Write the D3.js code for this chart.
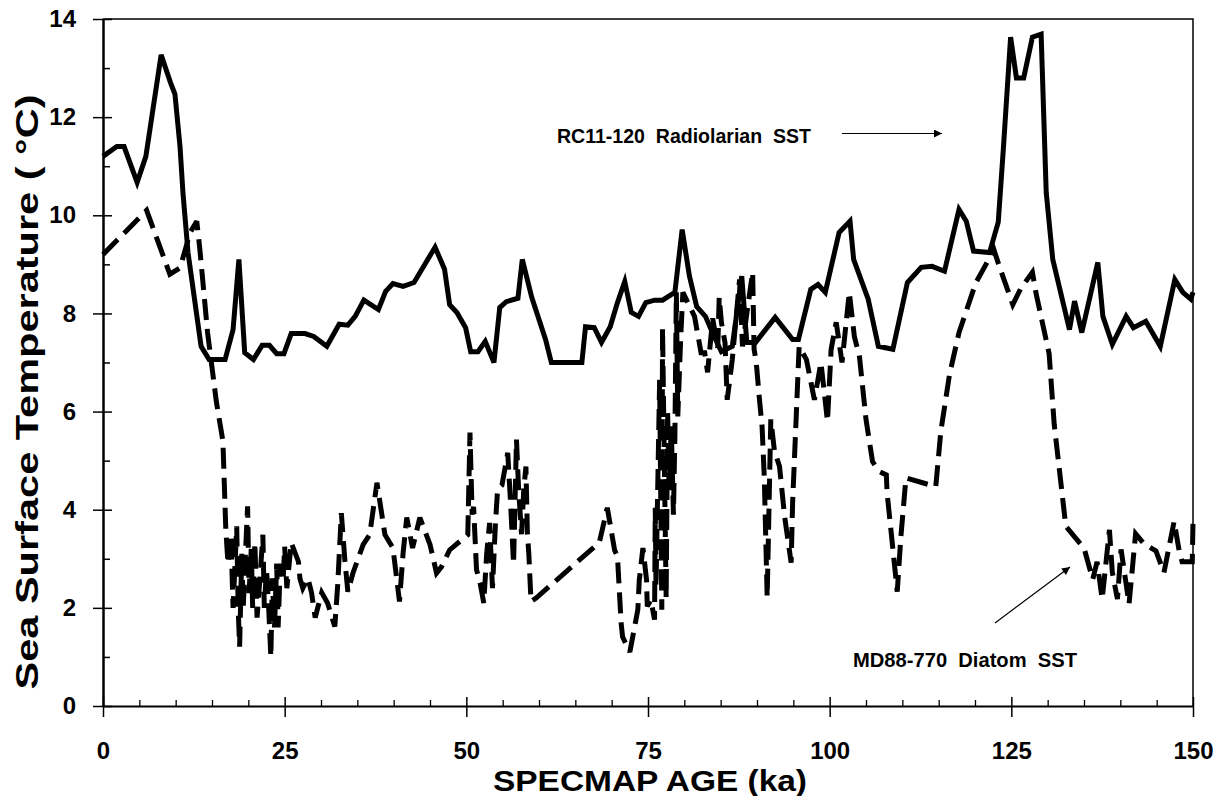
<!DOCTYPE html>
<html>
<head>
<meta charset="utf-8">
<script src="https://cdn.jsdelivr.net/npm/d3@7"></script>
<style>
  body { margin: 0; background: #fff; }
  svg { display: block; font-family: "Liberation Sans", Arial, sans-serif; }
</style>
</head>
<body>
<svg id="chart" width="1225" height="796"></svg>
<script>
// RC11-120 radiolarian SST (solid)
const rcAge = [0, 1.9, 2.9, 4.7, 5.9, 8.0, 9.3, 9.9, 10.6, 11.0, 11.7, 13.5, 14.6, 16.8, 17.9, 18.7, 19.5, 20.7,
  21.9, 22.9, 23.9, 24.9, 25.9, 27.8, 29.0, 30.8, 32.5, 33.7, 34.7, 35.9, 37.9, 38.9, 39.9, 41.3, 42.8, 45.7,
  47.0, 47.7, 48.7, 49.9, 50.6, 51.6, 52.6, 53.8, 54.6, 55.5, 57.1, 57.7, 59.0, 60.9, 61.7, 65.9, 66.4, 67.6,
  68.6, 69.8, 70.8, 71.8, 72.7, 73.7, 74.7, 75.9, 77.0, 78.7, 79.7, 80.7, 81.7, 82.9, 84.1, 85.1, 86.6, 87.9,
  88.6, 89.8, 92.5, 94.9, 95.7, 97.4, 98.4, 99.4, 101.3, 102.8, 103.3, 105.3, 106.7, 108.7, 110.7, 112.6,
  114.1, 115.8, 117.8, 118.8, 119.8, 122.0, 123.2, 123.9, 124.9, 125.7, 126.7, 127.9, 129.1, 129.8, 130.7,
  133.0, 133.7, 134.7, 136.9, 137.6, 138.9, 140.8, 141.8, 143.5, 145.5, 147.5, 148.6, 149.7, 150]
const rcSST = [11.2, 11.4, 11.4, 10.67, 11.2, 13.27, 12.7, 12.47, 11.4, 10.46, 9.24, 7.33, 7.06, 7.06, 7.67, 9.1, 7.2, 7.06,
  7.35, 7.35, 7.18, 7.18, 7.59, 7.59, 7.53, 7.33, 7.78, 7.76, 7.94, 8.27, 8.08, 8.45, 8.61, 8.55, 8.63, 9.35,
  8.9, 8.18, 8.02, 7.71, 7.22, 7.22, 7.43, 7.0, 8.12, 8.24, 8.31, 9.1, 8.33, 7.47, 7.0, 7.0, 7.73, 7.71,
  7.41, 7.73, 8.22, 8.65, 8.02, 7.94, 8.22, 8.27, 8.27, 8.43, 9.71, 8.76, 8.14, 7.94, 7.53, 7.22, 7.33, 8.76,
  7.41, 7.41, 7.92, 7.47, 7.47, 8.49, 8.59, 8.43, 9.65, 9.88, 9.1, 8.29, 7.33, 7.27, 8.63, 8.94,
  8.96, 8.86, 10.12, 9.88, 9.27, 9.24, 9.86, 11.35, 13.63, 12.8, 12.8, 13.63, 13.69, 10.47, 9.1,
  7.67, 8.25, 7.61, 9.04, 7.94, 7.37, 7.94, 7.71, 7.84, 7.33, 8.69, 8.43, 8.29, 8.43]

// MD88-770 diatom SST (dashed)
const mdAge = [0, 6.0, 9.2, 10.6, 12.0, 12.9, 13.3, 14.4, 15.6, 16.5, 16.9, 17.2, 17.6, 17.9, 18.2, 18.4, 18.6, 18.8,
  19.1, 19.3, 19.6, 19.9, 20.1, 20.4, 20.6, 20.9, 21.2, 21.6, 22.0, 22.2, 22.5, 22.8, 23.1, 23.3, 23.6, 23.9,
  24.1, 24.4, 24.8, 25.0, 25.3, 25.9, 26.9, 27.1, 27.5, 28.2, 28.7, 29.2, 30.1, 30.9, 31.9, 32.3, 32.8, 33.3,
  33.7, 34.4, 35.8, 36.7, 37.7, 38.8, 39.9, 40.8, 41.3, 41.8, 42.6, 43.6, 45.0, 45.9, 46.6, 47.7, 50.2, 50.5,
  50.8, 51.0, 51.4, 51.9, 52.4, 52.8, 53.2, 53.6, 54.0, 54.3, 54.9, 55.7, 56.1, 56.5, 56.9, 57.2, 57.6, 57.9,
  58.2, 58.4, 58.6, 58.9, 59.6, 68.3, 69.4, 70.4, 70.8, 71.3, 71.5, 72.5, 72.9, 73.6, 73.8, 74.3, 74.8, 74.9,
  75.4, 75.9, 76.0, 76.1, 76.6, 76.9, 77.0, 77.5, 77.7, 77.9, 78.2, 78.5, 78.7, 78.9, 79.1, 79.5, 79.8, 81.4,
  82.3, 82.8, 83.2, 83.9, 84.6, 84.8, 85.1, 85.6, 85.9, 86.6, 87.6, 88.0, 88.6, 89.4, 89.6, 89.9, 90.3, 90.7,
  91.0, 91.4, 91.9, 92.4, 93.1, 93.8, 94.7, 94.9, 95.8, 96.8, 97.9, 98.8, 99.7, 100.2, 100.9, 101.7, 102.7,
  103.4, 104.1, 105.0, 105.9, 106.8, 107.8, 107.9, 109.3, 109.8, 110.5, 114.6, 115.3, 116.5, 117.8, 120.1,
  121.7, 122.6, 123.3, 125.2, 126.3, 127.9, 128.4, 130.2, 130.9, 132.0, 132.5, 135.0, 136.2, 136.8, 137.5,
  138.5, 138.9, 139.6, 140.1, 141.2, 142.1, 143.3, 144.9, 146.0, 147.4, 148.1, 148.5, 149.9, 150]
const mdSST = [9.2, 10.1, 8.8, 8.93, 9.65, 9.88, 9.35, 7.6, 6.2, 5.4, 3.6, 2.9, 3.5, 2.0, 3.0, 3.66, 2.0, 1.21,
  3.1, 2.0, 3.1, 4.07, 2.3, 3.2, 2.0, 3.33, 1.8, 2.6, 3.49, 2.0, 2.8, 2.0, 1.0, 2.6, 1.6, 2.9,
  1.6, 2.9, 2.6, 3.25, 2.4, 3.33, 2.94, 2.6, 2.4, 2.6, 2.31, 1.8, 2.31, 2.1, 1.62, 2.47, 3.93, 2.94,
  2.33, 2.71, 3.29, 3.49, 4.55, 3.49, 3.22, 2.13, 3.12, 3.84, 3.22, 3.84, 3.29, 2.71, 2.84, 3.18, 3.49, 5.57,
  3.9, 4.06, 2.78, 2.5, 2.1, 3.1, 3.73, 2.4, 3.7, 4.41, 4.5, 5.16, 4.1, 2.89, 5.43, 4.4, 3.5, 4.4,
  4.88, 3.53, 3.1, 2.13, 2.2, 3.33, 4.04, 3.18, 3.04, 1.69, 1.41, 1.1, 1.41, 1.96, 2.57, 3.22, 2.57, 2.03,
  2.16, 1.76, 4.04, 2.43, 6.65, 1.96, 7.7, 2.2, 6.0, 4.4, 5.7, 3.9, 5.5, 8.43, 5.9, 7.5, 8.43, 7.94,
  7.2, 7.2, 6.8, 7.9, 7.3, 8.33, 7.82, 7.4, 6.24, 7.06, 8.69, 7.33, 8.0, 8.84, 7.27, 7.0, 6.31, 5.69,
  4.67, 2.22, 5.84, 5.2, 4.88, 3.86, 2.92, 4.14, 7.33, 7.06, 6.24, 7.0, 5.8, 7.27, 7.82, 7.0, 8.43,
  7.53, 7.12, 5.84, 4.98, 4.78, 4.71, 4.35, 2.33, 3.45, 4.65, 4.47, 5.6, 6.76, 7.61, 8.62,
  9.05, 9.3, 8.98, 8.18, 8.51, 8.84, 8.41, 7.18, 5.74, 4.31, 3.66, 3.22, 2.58, 2.94, 2.18,
  3.59, 2.72, 2.18, 3.19, 2.08, 3.51, 3.3, 3.16, 2.72, 3.76, 3.16, 2.94, 2.94, 3.76]

const xMajor = [0, 25, 50, 75, 100, 125, 150]
const xMinor = d3.range(5, 150, 5).filter(v => v % 25 !== 0)
const yMajor = [0, 2, 4, 6, 8, 10, 12, 14]
const yMinor = [1, 3, 5, 7, 9, 11, 13]

const svg = d3.select('#chart')
const margin = { top: 19, right: 32, bottom: 90, left: 103 }
const width = 1225, height = 796

const x = d3.scaleLinear().domain([0, 150]).range([margin.left, width - margin.right])
const y = d3.scaleLinear().domain([0, 14]).range([height - margin.bottom, margin.top])

// frame (top and right)
svg.append('path')
  .attr('d', `M${x(0)},${y(14)}H${x(150)}V${y(0)}`)
  .attr('fill', 'none').attr('stroke', '#000').attr('stroke-width', 1.5)

// y axis: outer major ticks + labels
const yAx = svg.append('g')
  .attr('transform', `translate(${x(0)},0)`)
  .call(d3.axisLeft(y).tickValues(yMajor).tickSize(10).tickSizeOuter(0).tickPadding(17))
yAx.select('.domain').attr('stroke-width', 2.5)
yAx.selectAll('.tick line').attr('stroke-width', 1.5)
yAx.selectAll('text').attr('font-size', 24).attr('font-weight', 'bold').attr('font-family', '"Liberation Sans", Arial, sans-serif')

// y inner ticks
svg.append('g').attr('transform', `translate(${x(0)},0)`)
  .call(d3.axisRight(y).tickValues(yMajor).tickSize(9).tickSizeOuter(0).tickFormat(''))
  .call(g => g.select('.domain').remove())
  .selectAll('.tick line').attr('stroke-width', 1.5)
svg.append('g').attr('transform', `translate(${x(0)},0)`)
  .call(d3.axisRight(y).tickValues(yMinor).tickSize(7).tickSizeOuter(0).tickFormat(''))
  .call(g => g.select('.domain').remove())
  .selectAll('.tick line').attr('stroke-width', 1.5)

// x axis
const xAx = svg.append('g')
  .attr('transform', `translate(0,${y(0)})`)
  .call(d3.axisBottom(x).tickValues(xMajor).tickSize(11).tickSizeOuter(0).tickPadding(25))
xAx.select('.domain').attr('stroke-width', 2)
xAx.selectAll('.tick line').attr('stroke-width', 1.5)
xAx.selectAll('text').attr('font-size', 24).attr('font-weight', 'bold').attr('font-family', '"Liberation Sans", Arial, sans-serif')

svg.append('g').attr('transform', `translate(0,${y(0)})`)
  .call(d3.axisTop(x).tickValues(xMajor).tickSize(9).tickSizeOuter(0).tickFormat(''))
  .call(g => g.select('.domain').remove())
  .selectAll('.tick line').attr('stroke-width', 1.5)
svg.append('g').attr('transform', `translate(0,${y(0)})`)
  .call(d3.axisTop(x).tickValues(xMinor).tickSize(6).tickSizeOuter(0).tickFormat(''))
  .call(g => g.select('.domain').remove())
  .selectAll('.tick line').attr('stroke-width', 1.3)

// series
const line = d3.line().x(d => x(d[0])).y(d => y(d[1]))

svg.append('path')
  .datum(mdAge.map((a, i) => [a, mdSST[i]]))
  .attr('d', line)
  .attr('fill', 'none').attr('stroke', '#000')
  .attr('stroke-width', 5).attr('stroke-dasharray', '21,9')
  .attr('stroke-linejoin', 'miter').attr('stroke-miterlimit', 3)

svg.append('path')
  .datum(rcAge.map((a, i) => [a, rcSST[i]]))
  .attr('d', line)
  .attr('fill', 'none').attr('stroke', '#000')
  .attr('stroke-width', 5)
  .attr('stroke-linejoin', 'miter').attr('stroke-miterlimit', 4)

// axis titles
svg.append('text')
  .attr('x', 650).attr('y', 791)
  .attr('text-anchor', 'middle')
  .attr('font-size', 29).attr('font-weight', 'bold')
  .attr('textLength', 314).attr('lengthAdjust', 'spacingAndGlyphs')
  .text('SPECMAP AGE (ka)')

svg.append('text')
  .attr('transform', 'translate(38,392) rotate(-90)')
  .attr('text-anchor', 'middle')
  .attr('font-size', 31).attr('font-weight', 'bold')
  .attr('textLength', 595).attr('lengthAdjust', 'spacingAndGlyphs')
  .text('Sea Surface Temperature ( °C)')

// annotations
svg.append('defs').append('marker')
  .attr('id', 'arr').attr('viewBox', '0 0 10 10')
  .attr('refX', 10).attr('refY', 5)
  .attr('markerWidth', 20).attr('markerHeight', 8)
  .attr('markerUnits', 'userSpaceOnUse')
  .attr('orient', 'auto')
  .append('path').attr('d', 'M0,0L10,5L0,10Z').attr('fill', '#000')

svg.append('text')
  .attr('x', 557).attr('y', 143)
  .attr('font-size', 20).attr('font-weight', 'bold')
  .attr('textLength', 254).attr('lengthAdjust', 'spacingAndGlyphs')
  .attr('xml:space', 'preserve')
  .text('RC11-120  Radiolarian  SST')
svg.append('line')
  .attr('x1', 842).attr('y1', 133.5).attr('x2', 942).attr('y2', 133.5)
  .attr('stroke', '#000').attr('stroke-width', 1.2)
  .attr('marker-end', 'url(#arr)')

svg.append('text')
  .attr('x', 853).attr('y', 667)
  .attr('font-size', 20).attr('font-weight', 'bold')
  .attr('textLength', 224).attr('lengthAdjust', 'spacingAndGlyphs')
  .attr('xml:space', 'preserve')
  .text('MD88-770  Diatom  SST')
svg.append('line')
  .attr('x1', 995).attr('y1', 623).attr('x2', 1070).attr('y2', 567)
  .attr('stroke', '#000').attr('stroke-width', 1.2)
  .attr('marker-end', 'url(#arr)')
</script>
</body>
</html>
